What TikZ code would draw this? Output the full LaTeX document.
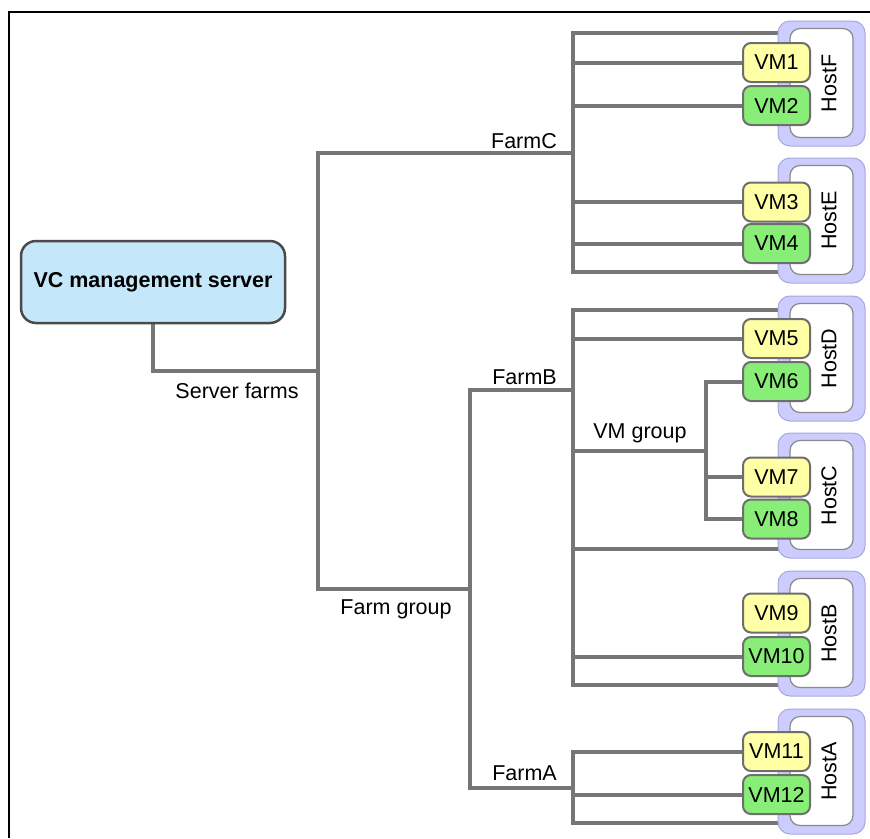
\documentclass[tikz,border=0pt]{standalone}
\usepackage{fontspec}
\setmainfont{Liberation Sans}
\definecolor{wire}{HTML}{767676}
\definecolor{vmedge}{HTML}{6E6E6E}
\definecolor{vmyellow}{HTML}{FFFFA6}
\definecolor{vmgreen}{HTML}{88EE77}
\definecolor{hostlav}{HTML}{CCCCFF}
\definecolor{hostedge}{HTML}{A8A8DA}
\definecolor{hostline}{HTML}{8A8A8A}
\definecolor{srvblue}{HTML}{C5E7FA}
\definecolor{srvedge}{HTML}{4A4A4A}
\newcommand{\labfont}{\fontsize{21.5}{24}\selectfont}
\pgfdeclarelayer{back}
\pgfsetlayers{back,main}
\tikzset{
  wire/.style={draw=wire, line width=4pt, line cap=rect},
  vmbox/.style={draw=vmedge, line width=2pt, rounded corners=8pt,
    minimum width=67pt, minimum height=39pt, inner sep=0pt, font=\labfont},
  vmy/.style={vmbox, fill=vmyellow},
  vmg/.style={vmbox, fill=vmgreen},
  hostouter/.style={fill=hostlav, draw=hostedge, line width=1pt,
    rounded corners=12pt, minimum width=87pt, minimum height=125pt, inner sep=0pt},
  hostinner/.style={fill=white, draw=hostline, line width=1.2pt,
    rounded corners=10pt, minimum width=63pt, minimum height=109pt, inner sep=0pt},
  hostlabel/.style={rotate=90, font=\labfont, inner sep=0pt},
  lab/.style={font=\labfont, inner sep=0pt},
}
\begin{document}
\begin{tikzpicture}[x=1pt, y=-1pt]
\useasboundingbox (0,0) rectangle (870,838);

% outer frame
\draw[black, line width=1.3pt] (9,838) -- (9,12) -- (870,12);

% management server
\node[draw=srvedge, line width=2.5pt, fill=srvblue, rounded corners=15pt,
      minimum width=264pt, minimum height=82pt, inner sep=0pt,
      font=\labfont\bfseries] (vc) at (153,282) {VC management server};

% hosts
\foreach \h/\y in {F/83.5, E/220.5, D/358.5, C/495.5, B/633.5, A/771.5}{
  \node[hostouter] (h\h) at (821.5,\y) {};
  \node[hostinner] (h\h in) at (821.5,\y-0.5) {};
  \node[hostlabel] (h\h lab) at (829,\y) {Host\h};
}

% virtual machines
\node[vmy] (vm1)  at (776.5,62.5)  {VM1};
\node[vmg] (vm2)  at (776.5,105.5) {VM2};
\node[vmy] (vm3)  at (776.5,202)   {VM3};
\node[vmg] (vm4)  at (776.5,243.5) {VM4};
\node[vmy] (vm5)  at (776.5,338.5) {VM5};
\node[vmg] (vm6)  at (776.5,381.5) {VM6};
\node[vmy] (vm7)  at (776.5,477)   {VM7};
\node[vmg] (vm8)  at (776.5,519)   {VM8};
\node[vmy] (vm9)  at (776.5,613)   {VM9};
\node[vmg] (vm10) at (776.5,656.5) {VM10};
\node[vmy] (vm11) at (776.5,751.5) {VM11};
\node[vmg] (vm12) at (776.5,794.5) {VM12};

% junction points of the tree
\coordinate (srvJ)  at (318,371);
\coordinate (sfTop) at (318,153);
\coordinate (sfBot) at (318,589);
\coordinate (fC)    at (573,153);
\coordinate (fgMid) at (470,589);
\coordinate (fgTop) at (470,390);
\coordinate (fgBot) at (470,788);
\coordinate (fB)    at (573,390);
\coordinate (fA)    at (573,788);
\coordinate (cTop)  at (573,33);
\coordinate (cBot)  at (573,272);
\coordinate (bTop)  at (573,310);
\coordinate (bC)    at (573,549);
\coordinate (bBot)  at (573,685);
\coordinate (vmgJ)  at (573,451);
\coordinate (vmgX)  at (706,451);
\coordinate (aBot)  at (573,823);

% labels
\node[lab, anchor=center] (lsf) at (237,391) {Server farms};
\node[lab, anchor=east] (lfc) at (557,141) {FarmC};
\node[lab, anchor=east] (lfb) at (557,377) {FarmB};
\node[lab, anchor=east] (lfa) at (557,773) {FarmA};
\node[lab, anchor=center] (lfg) at (396,609) {Farm group};
\node[lab, anchor=center] (lvg) at (640,433) {VM group};

\begin{pgfonlayer}{back}
  % server farms
  \draw[wire] (vc.south) |- (srvJ);
  \draw[wire] (sfTop) -- (sfBot);
  \draw[wire] (sfTop) -- (fC);
  \draw[wire] (sfBot) -- (fgMid);
  % farm group
  \draw[wire] (fgTop) -- (fgBot);
  \draw[wire] (fgTop) -- (fB);
  \draw[wire] (fgBot) -- (fA);
  % FarmC
  \draw[wire] (cTop) -- (cBot);
  \draw[wire] (cTop) -- (cTop -| hF.west);
  \draw[wire] (vm1.west -| cTop) -- (vm1.west);
  \draw[wire] (vm2.west -| cTop) -- (vm2.west);
  \draw[wire] (vm3.west -| cTop) -- (vm3.west);
  \draw[wire] (vm4.west -| cTop) -- (vm4.west);
  \draw[wire] (cBot) -- (cBot -| hE.west);
  % FarmB
  \draw[wire] (bTop) -- (bBot);
  \draw[wire] (bTop) -- (bTop -| hD.west);
  \draw[wire] (vm5.west -| bTop) -- (vm5.west);
  \draw[wire] (vmgJ) -- (vmgX);
  \draw[wire] (vm6.west -| vmgX) -- (vm8.west -| vmgX);
  \draw[wire] (vm6.west -| vmgX) -- (vm6.west);
  \draw[wire] (vm7.west -| vmgX) -- (vm7.west);
  \draw[wire] (vm8.west -| vmgX) -- (vm8.west);
  \draw[wire] (bC) -- (bC -| hC.west);
  \draw[wire] (vm10.west -| bTop) -- (vm10.west);
  \draw[wire] (bBot) -- (bBot -| hB.west);
  % FarmA
  \draw[wire] (vm11.west -| aBot) -- (aBot);
  \draw[wire] (vm11.west -| aBot) -- (vm11.west);
  \draw[wire] (vm12.west -| aBot) -- (vm12.west);
  \draw[wire] (aBot) -- (aBot -| hA.west);
\end{pgfonlayer}
\end{tikzpicture}
\end{document}
